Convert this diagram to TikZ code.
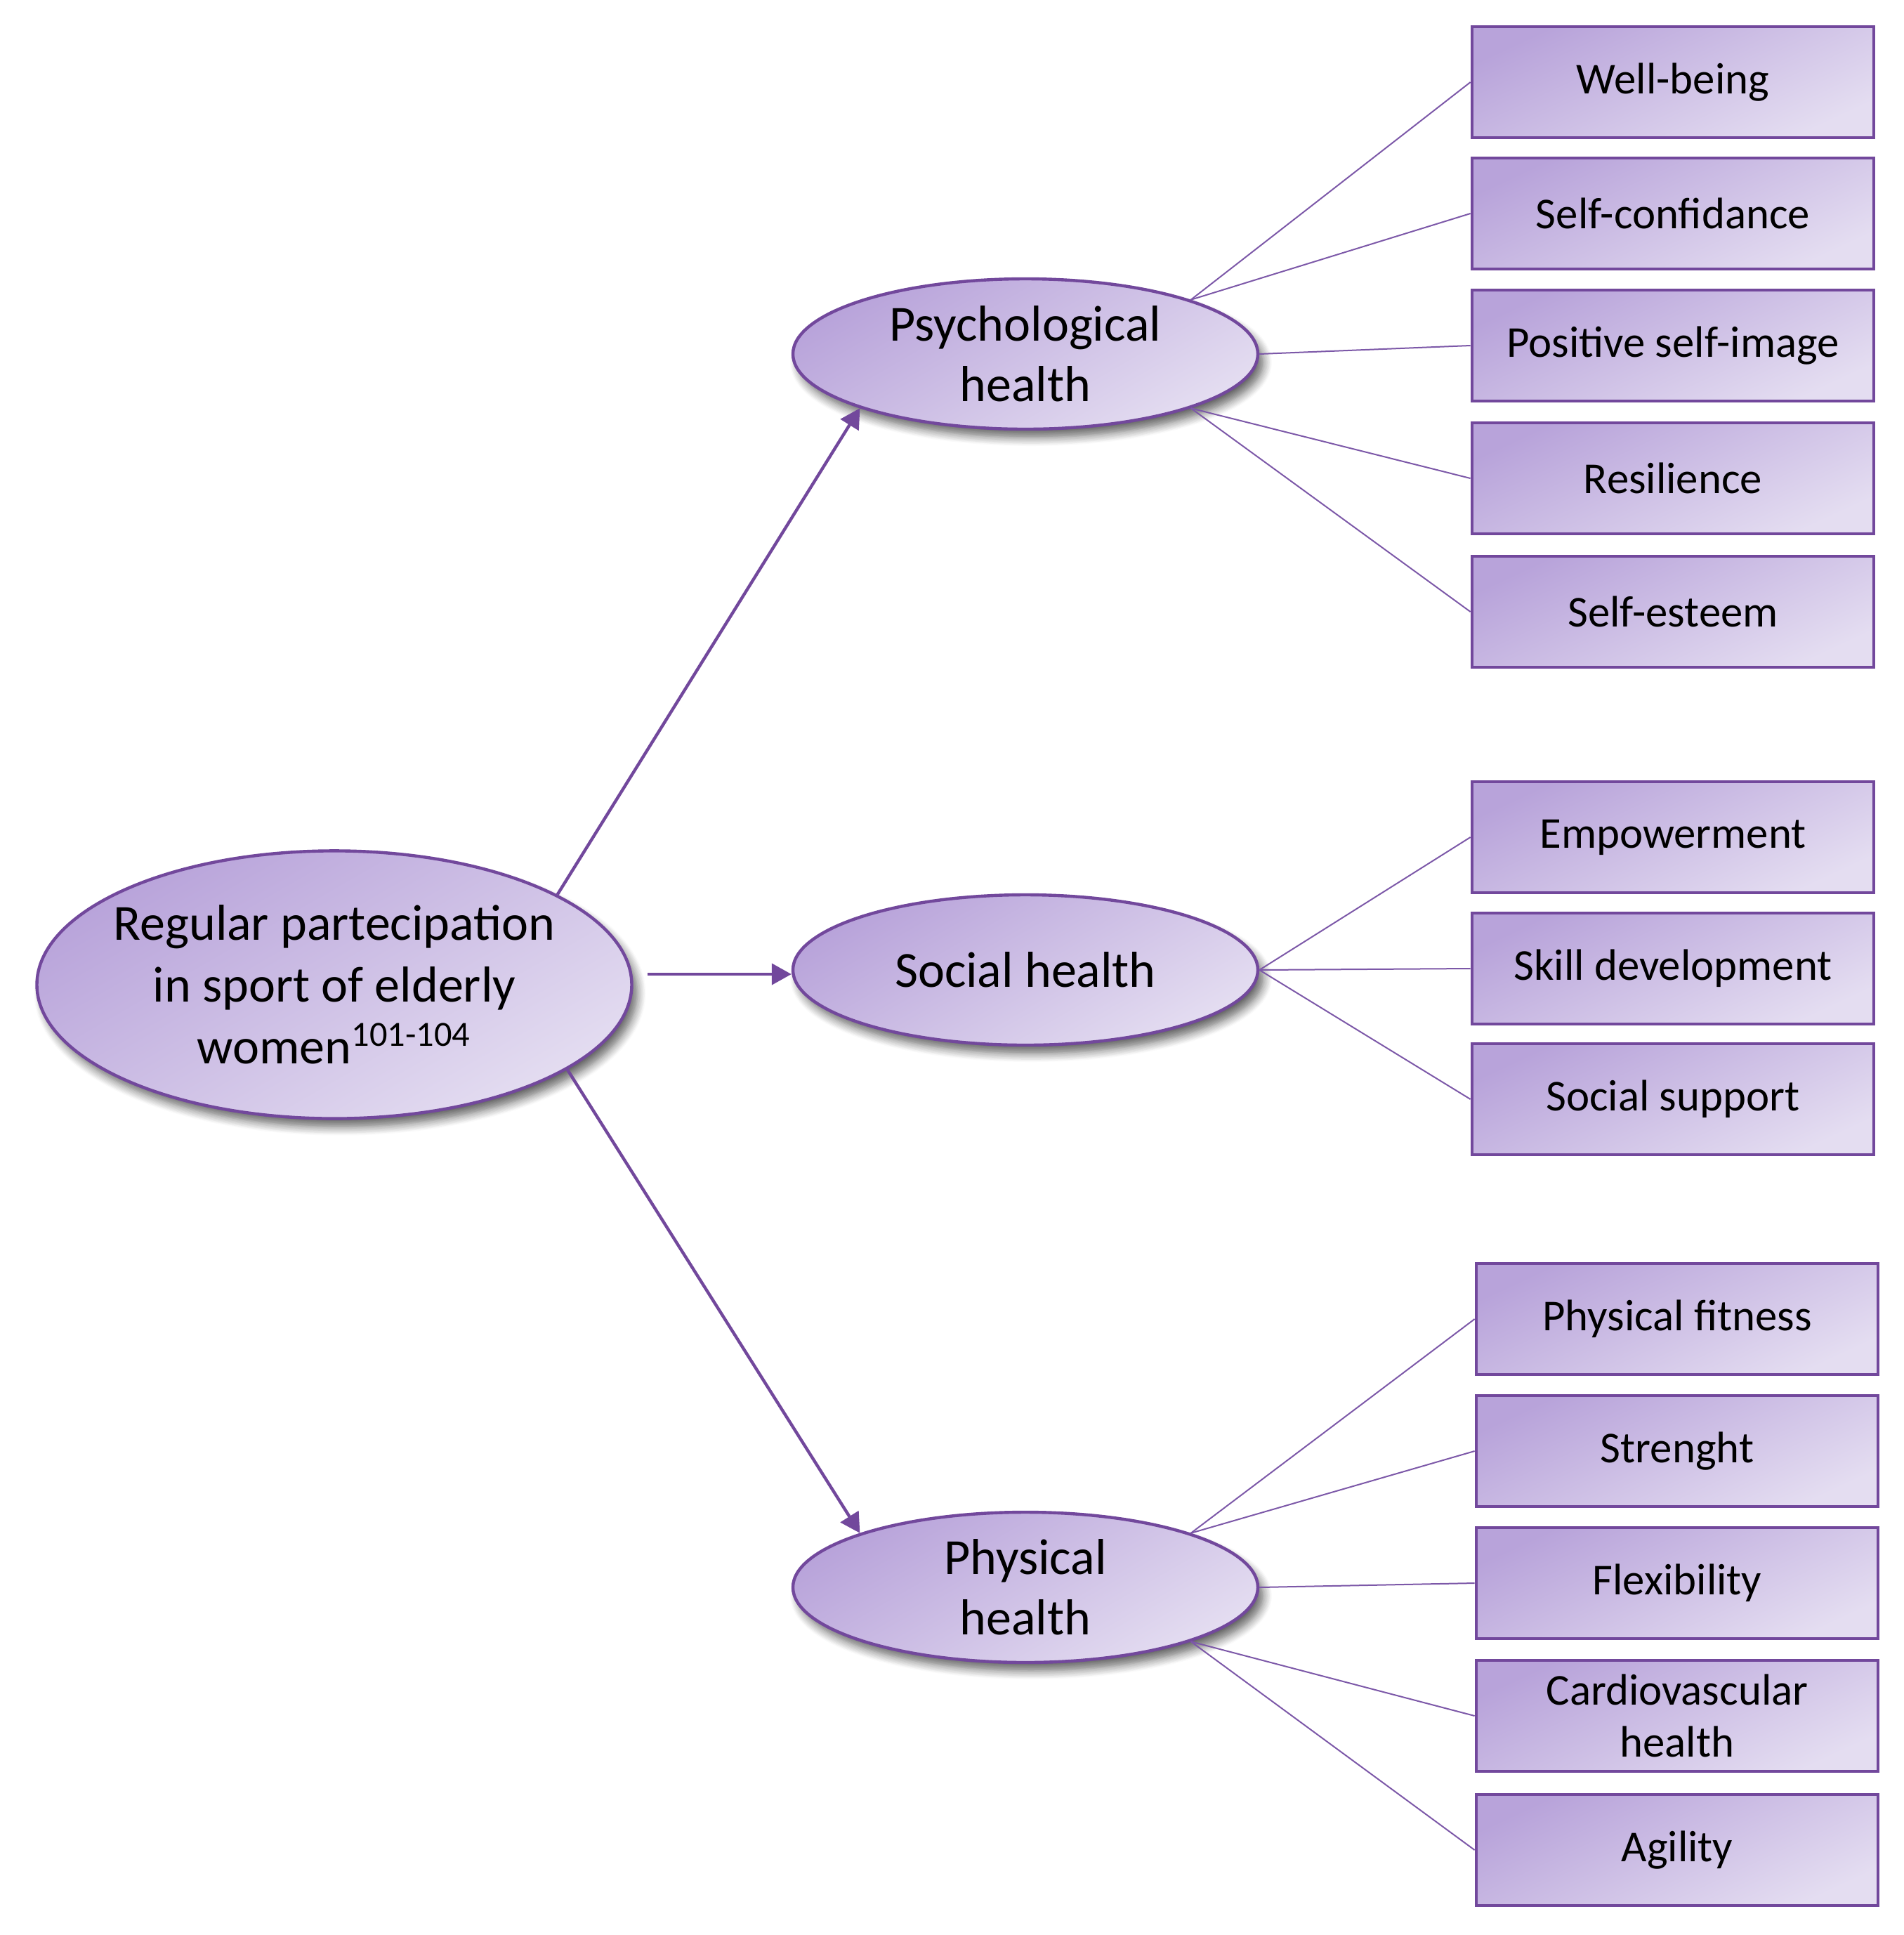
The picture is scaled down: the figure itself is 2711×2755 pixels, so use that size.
\documentclass[tikz,border=0pt]{standalone}
\usepackage{fontspec}
\setmainfont{Carlito}
\usetikzlibrary{arrows.meta,shapes.geometric,shadows.blur}
\definecolor{pborder}{RGB}{114,72,156}
\definecolor{pdark}{RGB}{184,163,218}
\definecolor{plight}{RGB}{228,221,241}
\definecolor{pline}{RGB}{124,88,168}
\begin{document}
\begin{tikzpicture}[x=0.25pt,y=-0.25pt,
  ell/.style={ellipse, draw=pborder, line width=1.1pt, top color=pdark, bottom color=plight, shading angle=30,
    blur shadow={shadow xshift=2pt, shadow yshift=-3pt, shadow blur steps=8, shadow blur radius=3pt, shadow opacity=60}, inner sep=0pt},
  smallell/.style={ell, minimum width=165.5pt, minimum height=53.5pt},
  elltext/.style={align=center, font=\fontsize{18}{21.5}\selectfont, inner sep=0pt},
  box/.style={rectangle, draw=pborder, line width=1.2pt, top color=pdark, bottom color=plight, shading angle=25,
    minimum width=143pt, minimum height=39.5pt, align=center, font=\fontsize{15.7}{18.5}\selectfont, inner sep=2pt},
  thin/.style={draw=pline, line width=0.5pt},
  arr/.style={draw=pborder, line width=1.1pt, -{Triangle[length=7pt,width=7.5pt]}}]
\useasboundingbox (0,0) rectangle (2711,2755);
% main
\node[ell, minimum width=211.75pt, minimum height=95.3pt] (main) at (476,1402) {};
\node[elltext, font=\fontsize{18}{22}\selectfont] (maint) at (main) {Regular partecipation\\in sport of elderly\\women\textsuperscript{101-104}};
% second level
\node[smallell] (psy) at (1460,504) {};
\node[elltext] (psyt) at (psy) {Psychological\\health};
\node[smallell] (soc) at (1460,1381) {};
\node[elltext] (soct) at (soc) {Social health};
\node[smallell] (phy) at (1460,2260) {};
\node[elltext] (phyt) at (phy) {Physical\\health};
% boxes
\node[box] (b1) at (2382,117) {Well-being};
\node[box] (b2) at (2382,304) {Self-confidance};
\node[box] (b3) at (2382,492) {Positive self-image};
\node[box] (b4) at (2382,681) {Resilience};
\node[box] (b5) at (2382,871) {Self-esteem};
\node[box] (c1) at (2382,1192) {Empowerment};
\node[box] (c2) at (2382,1379) {Skill development};
\node[box] (c3) at (2382,1565) {Social support};
\node[box] (d1) at (2388,1878) {Physical fitness};
\node[box] (d2) at (2388,2066) {Strenght};
\node[box] (d3) at (2388,2254) {Flexibility};
\node[box] (d4) at (2388,2443) {Cardiovascular\\health};
\node[box] (d5) at (2388,2634) {Agility};
% arrows
\draw[arr] (main.22) -- (psy.south west);
\draw[arr] ([xshift=5pt,yshift=-1.5pt]soc.west -| main.east) -- ([yshift=-1.5pt]soc.west);
\draw[arr] (main.-20) -- (phy.north west);
% thin connectors
\draw[thin] (psy.north east) -- (b1.west);
\draw[thin] (psy.north east) -- (b2.west);
\draw[thin] (psy.east) -- (b3.west);
\draw[thin] (psy.south east) -- (b4.west);
\draw[thin] (psy.south east) -- (b5.west);
\draw[thin] (soc.east) -- (c1.west);
\draw[thin] (soc.east) -- (c2.west);
\draw[thin] (soc.east) -- (c3.west);
\draw[thin] (phy.north east) -- (d1.west);
\draw[thin] (phy.north east) -- (d2.west);
\draw[thin] (phy.east) -- (d3.west);
\draw[thin] (phy.south east) -- (d4.west);
\draw[thin] (phy.south east) -- (d5.west);
\end{tikzpicture}
\end{document}
